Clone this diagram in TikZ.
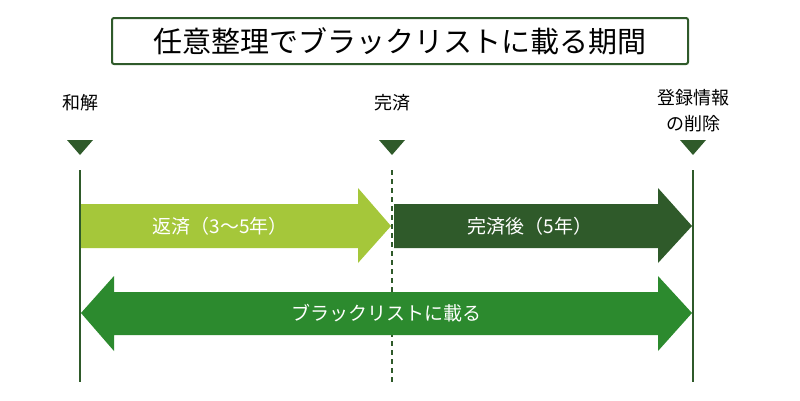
\documentclass[tikz,border=0pt]{standalone}
\usepackage{fontspec}
\setmainfont{Noto Sans CJK JP}
\usetikzlibrary{positioning}
\definecolor{dkgreen}{HTML}{2F5A2A}
\definecolor{ltgreen}{HTML}{A5C73A}
\definecolor{midgreen}{HTML}{2C8A2E}

\tikzset{
  tick mark/.style={fill=dkgreen},
  lbl/.style={font=\fontsize{18}{26}\selectfont, align=center},
  bar/.style={font=\fontsize{19}{22}\selectfont, text=white},
}

\begin{document}
\begin{tikzpicture}[x=1pt,y=-1pt]
		\useasboundingbox (0,0) rectangle (800,400);
		\fill[white] (0,0) rectangle (800,400);

		% title
		\node [draw=dkgreen, line width=2pt, rounded corners=2pt, minimum width=576pt, minimum height=46pt,
			font=\fontsize{29}{32}\selectfont] (title) at (400,41) {任意整理でブラックリストに載る期間};

		% time points
		\node [lbl] (wakai) at (80,103) {和解};
		\node [lbl] (kansai) at (392,103) {完済};
		\node [lbl] (sakujo) at (693,111) {登録情報\\の削除};
		\foreach \x in {80,392,693}
			\fill[tick mark] (\x-13,140) -- (\x+13,140) -- (\x,155) -- cycle;

		\coordinate (a1) at (80,170);   \coordinate (a2) at (80,382);
		\coordinate (b1) at (392,170);  \coordinate (b2) at (392,382);
		\coordinate (c1) at (693,170);  \coordinate (c2) at (693,382);
		\draw[dkgreen, line width=2pt] (a1) -- (a2);
		\draw[dkgreen, line width=2pt] (c1) -- (c2);
		\draw[dkgreen, line width=1.5pt, dash pattern=on 5pt off 4pt] (b1) -- (b2);

		% bars
		\fill[ltgreen] (81,204) -- (358,204) -- (358,188) -- (391,226) -- (358,263) -- (358,248) -- (81,248) -- cycle;
		\node [bar] (hensai) at (220,226) {返済（3～5年）};
		\fill[dkgreen] (394,204) -- (658,204) -- (658,188) -- (692,226) -- (658,263) -- (658,248) -- (394,248) -- cycle;
		\node [bar] (kansaigo) at (530,226) {完済後（5年）};
		\fill[midgreen] (81,313) -- (114,276) -- (114,292) -- (658,292) -- (658,276) -- (692,313) -- (658,351) -- (658,335) -- (114,335) -- (114,351) -- cycle;
		\node [bar] (black) at (386,313) {ブラックリストに載る};
	\end{tikzpicture}
\end{document}
